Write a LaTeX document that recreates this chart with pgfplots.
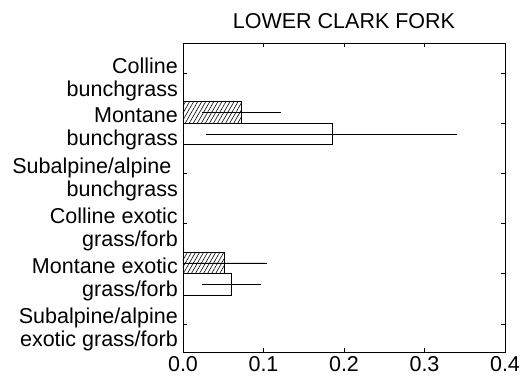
\documentclass[border=0pt]{standalone}
\usepackage{pgfplots}
\pgfplotsset{compat=1.18}
\usepackage{fontspec}
\setmainfont{Liberation Sans}
\usetikzlibrary{patterns.meta}
\begin{document}
\begin{tikzpicture}
\begin{axis}[
    name=ax,
    scale only axis,
    width=322pt, height=309pt,
    xbar,
    xmin=0, xmax=0.4,
    ymin=-0.56, ymax=5.6,
    xtick={0,0.1,0.2,0.3,0.4},
    ytick={0,...,5},
    yticklabels={{Subalpine/alpine\\exotic grass/forb},
                 {Montane exotic\\grass/forb},
                 {Colline exotic\\grass/forb},
                 {Subalpine/alpine\hspace*{0.3em}\\bunchgrass},
                 {Montane\\bunchgrass},
                 {Colline\\bunchgrass}},
    tick align=inside,
    major tick length=4pt,
    axis line style={line width=0.8pt},
    every tick/.style={black, line width=0.6pt},
    /pgf/number format/assume math mode=true,
    xticklabel style={/pgf/number format/fixed,
        /pgf/number format/fixed zerofill,
        /pgf/number format/precision=1,
        inner sep=0pt, yshift=-4pt},
    tick label style={font=\fontsize{21.5}{23}\selectfont},
    yticklabel style={align=right, inner sep=0pt, xshift=-5pt, yshift=-6pt},
    title={LOWER CLARK FORK},
    title style={font=\fontsize{21.5}{24}\selectfont, inner sep=0pt, yshift=8pt},
    error bars/x dir=both, error bars/x explicit,
    error bars/error bar style={line width=0.6pt, black},
    error bars/error mark options={mark size=1.5pt, line width=0.6pt},
]
% hatched series
\addplot[draw=black, line width=0.8pt, bar width=0.43, bar shift=0.215,
    pattern={Lines[angle=60,distance=3.5pt,line width=0.6pt]}]
    coordinates {(0.0725,4) +- (0.047,0) (0.052,1) +- (0.051,0)};
% open series
\addplot[draw=black, fill=white, line width=0.8pt, bar width=0.43, bar shift=-0.215]
    coordinates {(0.185,4) +- (0.154,0) (0.060,1) +- (0.035,0)};
\end{axis}
\path ([shift={(-183pt,-29pt)}]ax.south west) rectangle ([shift={(19pt,43pt)}]ax.north east);
\end{tikzpicture}
\end{document}
